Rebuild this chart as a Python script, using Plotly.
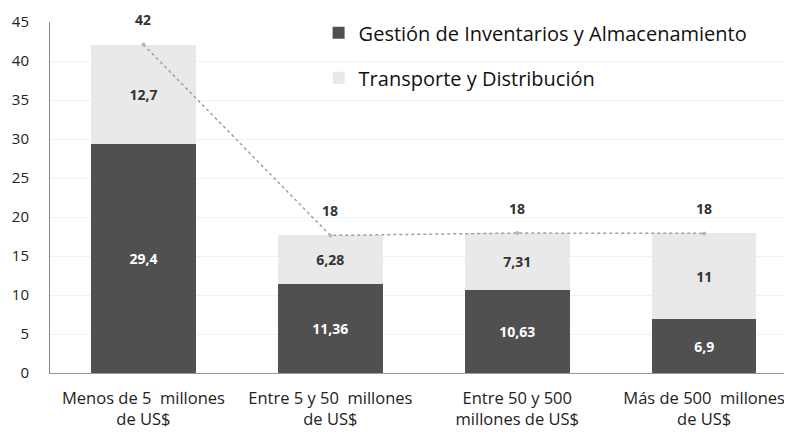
import plotly.graph_objects as go

categories = ["Menos de 5  millones<br>de US$", "Entre 5 y 50  millones<br>de US$",
              "Entre 50 y 500<br>millones de US$", "Más de 500  millones<br>de US$"]
gestion = [29.4, 11.36, 10.63, 6.9]
transporte = [12.7, 6.28, 7.31, 11]
gestion_labels = ["29,4", "11,36", "10,63", "6,9"]
transporte_labels = ["12,7", "6,28", "7,31", "11"]
total_labels = ["42", "18", "18", "18"]
totals = [g + t for g, t in zip(gestion, transporte)]

font_family = "Open Sans, Noto Sans, sans-serif"

fig = go.Figure()
fig.add_trace(go.Bar(
    x=categories, y=gestion, name="Gestión de Inventarios y Almacenamiento",
    marker=dict(color="#505050", line=dict(width=0)),
    text=gestion_labels, textposition="inside", insidetextanchor="middle",
    textfont=dict(color="white", size=14, family=font_family, weight="bold"),
    legendgroup="g", width=0.56,
))
fig.add_trace(go.Bar(
    x=categories, y=transporte, name="Transporte y Distribución",
    marker=dict(color="#e9e9e9", line=dict(width=0)),
    text=transporte_labels, textposition="inside", insidetextanchor="middle",
    textfont=dict(color="#333333", size=14, family=font_family, weight="bold"),
    legendgroup="t", width=0.56,
))
fig.add_trace(go.Scatter(
    x=categories, y=totals, mode="lines+markers",
    line=dict(color="#a0a0a0", width=1.5, dash="dot"),
    marker=dict(size=4, color="#b8b8b8"),
    showlegend=False, hoverinfo="skip",
))
for c, tv, tl in zip(categories, totals, total_labels):
    fig.add_annotation(x=c, y=tv, text=tl, showarrow=False, yshift=25,
                       font=dict(size=14, color="#333333", family=font_family, weight="bold"))

fig.update_layout(
    barmode="stack",
    width=784, height=426,
    margin=dict(l=42, r=0, t=14, b=61),
    paper_bgcolor="white", plot_bgcolor="white",
    font=dict(family=font_family, color="#222222"),
    legend=dict(x=0.362, y=1.025, xanchor="left", yanchor="top",
                font=dict(size=20, color="#111111", family=font_family),
                traceorder="grouped", tracegroupgap=16, bgcolor="rgba(0,0,0,0)",
                itemwidth=30),
)
fig.update_yaxes(range=[0, 45], dtick=5, showgrid=True, gridcolor="#f2f2f2",
                 showline=True, linecolor="#888888", linewidth=1,
                 tickfont=dict(size=15, color="#222222", family=font_family),
                 ticklabelstandoff=17, zeroline=False, automargin=False)
fig.update_xaxes(range=[-0.5, 3.47], showline=True, linecolor="#999999", linewidth=1,
                 tickfont=dict(size=16.5, color="#222222", family=font_family),
                 ticklabelstandoff=10, automargin=False)

fig.write_html("out.html")
